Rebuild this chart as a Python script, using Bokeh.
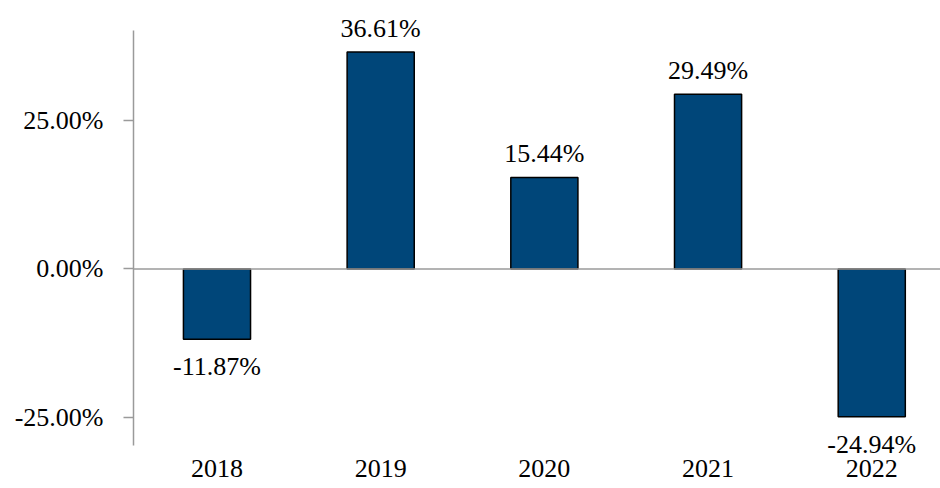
from bokeh.plotting import figure
from bokeh.models import Range1d, FixedTicker, PrintfTickFormatter, Span, ColumnDataSource, LabelSet
from bokeh.embed import file_html
from bokeh.resources import INLINE

years = ["2018", "2019", "2020", "2021", "2022"]
returns = [-11.87, 36.61, 15.44, 29.49, -24.94]
y_ticks = [-25, 0, 25]

FONT = "Liberation Serif"
BAR_COLOR = "#004679"
AXIS_GRAY = "#9a9a9a"

xs = list(range(len(years)))
labels = [f"{v:.2f}%" for v in returns]
offsets = [15 if v >= 0 else -36 for v in returns]
src = ColumnDataSource(dict(x=xs, top=returns, label=labels, yoff=offsets))

p = figure(width=940, height=488, output_backend="svg", toolbar_location=None,
           x_range=Range1d(-0.51, 4.42), y_range=Range1d(-31.97, 45.29),
           min_border_left=133, min_border_right=0, min_border_top=0, min_border_bottom=30)
p.outline_line_color = None
p.xgrid.visible = False
p.ygrid.visible = False
p.background_fill_color = "white"
p.border_fill_color = "white"

p.vbar(x="x", top="top", bottom=0, width=0.41, source=src,
       fill_color=BAR_COLOR, line_color="black", line_width=1.5)

zero = Span(location=0, dimension="width", line_color=AXIS_GRAY, line_width=1.5)
p.add_layout(zero)

lbl = LabelSet(x="x", y="top", text="label", y_offset="yoff", source=src,
               text_align="center", text_baseline="alphabetic",
               text_font=FONT, text_font_size="26px", text_color="black")
p.add_layout(lbl)

# y axis
ya = p.yaxis[0]
ya.bounds = (-29.77, 40.23)
ya.ticker = FixedTicker(ticks=y_ticks)
ya.formatter = PrintfTickFormatter(format="%.2f%%")
ya.axis_line_color = AXIS_GRAY
ya.axis_line_width = 1.5
ya.major_tick_line_color = AXIS_GRAY
ya.major_tick_line_width = 1.5
ya.major_tick_out = 10
ya.major_tick_in = 0
ya.minor_tick_line_color = None
ya.major_label_standoff = 20
ya.major_label_text_font = FONT
ya.major_label_text_font_size = "26px"
ya.major_label_text_color = "black"

# x axis
xa = p.xaxis[0]
xa.ticker = FixedTicker(ticks=xs)
xa.major_label_overrides = {i: y for i, y in zip(xs, years)}
xa.axis_line_color = None
xa.major_tick_line_color = None
xa.minor_tick_line_color = None
xa.major_tick_out = 0
xa.major_tick_in = 0
xa.major_label_standoff = 1
xa.major_label_text_font = FONT
xa.major_label_text_font_size = "26px"
xa.major_label_text_color = "black"

open("out.html", "w").write(file_html(p, INLINE))
